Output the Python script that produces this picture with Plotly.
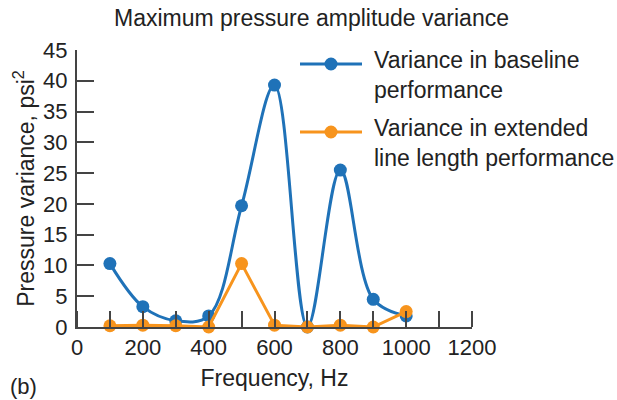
import plotly.graph_objects as go

freq = [100, 200, 300, 400, 500, 600, 700, 800, 900, 1000]
baseline = [10.3, 3.3, 1.0, 1.8, 19.7, 39.3, 0.0, 25.5, 4.5, 1.8]
extended = [0.2, 0.3, 0.2, 0.0, 10.3, 0.3, 0.0, 0.3, 0.0, 2.5]
x_ticks = [0, 200, 400, 600, 800, 1000, 1200]
y_ticks = [0, 5, 10, 15, 20, 25, 30, 35, 40, 45]

BLUE = "#1f72b8"
ORANGE = "#f7941d"
FONT = "Liberation Sans, Arial, sans-serif"
TXT = "#222222"

W, H = 617, 400
ML, MR, MT, MB = 77, 145, 50, 73
PW, PH = W - ML - MR, H - MT - MB


def px(x):
    return (x - ML) / PW


def py(y):
    return (H - MB - y) / PH


fig = go.Figure()
fig.add_trace(go.Scatter(x=freq, y=baseline, mode="lines+markers",
                         line=dict(color=BLUE, width=3, shape="spline", smoothing=1.0),
                         marker=dict(color=BLUE, size=13), cliponaxis=False,
                         name="Variance in baseline performance", showlegend=False))
fig.add_trace(go.Scatter(x=freq, y=extended, mode="lines+markers",
                         line=dict(color=ORANGE, width=3),
                         marker=dict(color=ORANGE, size=13), cliponaxis=False,
                         name="Variance in extended line length performance", showlegend=False))

fig.update_xaxes(range=[0, 1200], tickvals=x_ticks, ticktext=[str(v) for v in x_ticks],
                 ticks="", showgrid=False, zeroline=False, showline=True,
                 linecolor="#444444", linewidth=2,
                 tickfont=dict(size=22, color=TXT, family=FONT),
                 minor=dict(dtick=100, ticks="inside", ticklen=16, tickwidth=2, tickcolor="#444444", showgrid=False),
                 title=dict(text="Frequency, Hz", font=dict(size=23, color=TXT, family=FONT), standoff=10))
fig.update_yaxes(range=[0, 45], tickvals=y_ticks, ticks="inside", ticklen=17, tickwidth=2,
                 tickcolor="#444444", showgrid=False, zeroline=False, showline=True,
                 linecolor="#444444", linewidth=2, ticklabelstandoff=3,
                 tickfont=dict(size=22, color=TXT, family=FONT),
                 title=dict(text="Pressure variance, psi<sup>2</sup>", font=dict(size=23, color=TXT, family=FONT), standoff=2))

shapes = []
annotations = []
legend_items = [(BLUE, 64, ["Variance in baseline", "performance"]),
                (ORANGE, 132, ["Variance in extended", "line length performance"])]
for color, ypx, lines in legend_items:
    shapes.append(dict(type="line", xref="paper", yref="paper", x0=px(300), x1=px(362),
                       y0=py(ypx), y1=py(ypx), line=dict(color=color, width=3)))
    shapes.append(dict(type="circle", xref="paper", yref="paper", x0=px(331 - 6.5), x1=px(331 + 6.5),
                       y0=py(ypx + 6.5), y1=py(ypx - 6.5), fillcolor=color, line=dict(width=0)))
    annotations.append(dict(xref="paper", yref="paper", x=px(372), y=py(ypx - 19), xanchor="left", yanchor="top",
                            text="<br>".join(lines), showarrow=False, align="left",
                            font=dict(size=23, color=TXT, family=FONT)))

annotations.append(dict(xref="paper", yref="paper", x=px(311), y=py(18), xanchor="center", yanchor="middle",
                        text="Maximum pressure amplitude variance", showarrow=False,
                        font=dict(size=23, color=TXT, family=FONT)))
annotations.append(dict(xref="paper", yref="paper", x=px(8), y=py(386), xanchor="left", yanchor="middle",
                        text="(b)", showarrow=False, font=dict(size=22, color=TXT, family=FONT)))

fig.update_layout(width=W, height=H, margin=dict(l=ML, r=MR, t=MT, b=MB),
                  plot_bgcolor="white", paper_bgcolor="white",
                  shapes=shapes, annotations=annotations, showlegend=False)

fig.write_html("out.html")
